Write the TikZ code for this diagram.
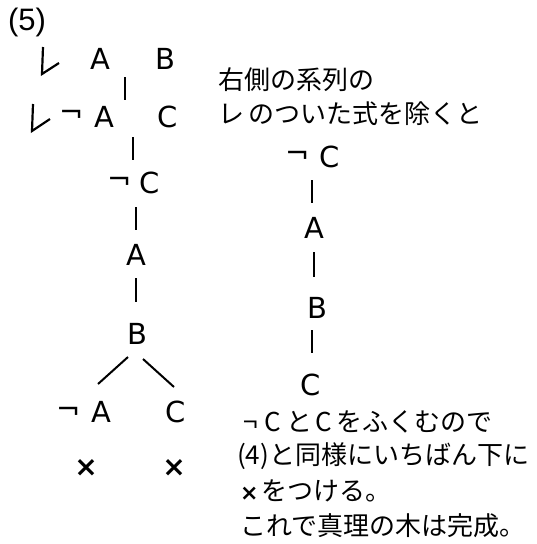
\documentclass[tikz,border=0pt]{standalone}
\usepackage{fontspec}
\newfontfamily\jp{Noto Sans CJK JP}
\newfontfamily\tr{DejaVu Sans}
\newfontfamily\ar{Liberation Sans}
\begin{document}
\begin{tikzpicture}[x=1pt,y=-1pt,
  lt/.style={font=\tr\fontsize{29}{32}\selectfont, inner sep=0pt},
  xt/.style={font=\tr\fontsize{28}{32}\selectfont\bfseries, inner sep=0pt},
  jt/.style={font=\jp\fontsize{26}{30}\selectfont, inner sep=0pt, anchor=west},
  ln/.style={line width=2pt},
  tick/.style={line width=2.2pt}]
\useasboundingbox (0,0) rectangle (537,544);
\node[font=\ar\fontsize{31}{34}\selectfont, inner sep=0pt] (num) at (27,22) {(5)};
% row 1
\draw[tick] (43,47) -- (42,74) -- (59,63);
\node[lt] (a1) at (100,59) {A};
\node[lt] (b1) at (165,59) {B};
\coordinate (l1a) at (125,77); \coordinate (l1b) at (125,100);
\draw[ln] (l1a) -- (l1b);
% row 2
\draw[tick] (33,104) -- (32,131) -- (50,119);
\node[lt] (n2) at (72,116) {¬};
\node[lt] (a2) at (104,117) {A};
\node[lt] (c2) at (168,117) {C};
\coordinate (l2a) at (133,137); \coordinate (l2b) at (133,160);
\draw[ln] (l2a) -- (l2b);
% row 3
\node[lt] (n3) at (120,183) {¬};
\node[lt] (c3) at (150,183) {C};
\coordinate (l3a) at (136,207); \coordinate (l3b) at (136,230);
\draw[ln] (l3a) -- (l3b);
\node[lt] (a4) at (136,255) {A};
\coordinate (l4a) at (136,278); \coordinate (l4b) at (136,302);
\draw[ln] (l4a) -- (l4b);
\node[lt] (b5) at (137,334) {B};
\coordinate (d1a) at (128,357); \coordinate (d1b) at (98,384);
\coordinate (d2a) at (143,359); \coordinate (d2b) at (174,387);
\draw[ln] (d1a) -- (d1b);
\draw[ln] (d2a) -- (d2b);
\node[lt] (n6) at (69,413) {¬};
\node[lt] (a6) at (101,412) {A};
\node[lt] (c6) at (176,412) {C};
\node[xt] (x1) at (86,468) {×};
\node[xt] (x2) at (174,468) {×};
% right column
\node[jt] (t1) at (218,80) {右側の系列の};
\node[jt] (t2) at (218,114) {レ\hspace{4pt}のついた式を除くと};
\node[lt] (rn) at (298,157) {¬};
\node[lt] (rc1) at (330,157) {C};
\coordinate (r1a) at (312,180); \coordinate (r1b) at (312,203);
\draw[ln] (r1a) -- (r1b);
\node[lt] (ra) at (314,228) {A};
\coordinate (r2a) at (314,252); \coordinate (r2b) at (314,277);
\draw[ln] (r2a) -- (r2b);
\node[lt] (rb) at (317,308) {B};
\coordinate (r3a) at (312,330); \coordinate (r3b) at (312,353);
\draw[ln] (r3a) -- (r3b);
\node[lt] (rc2) at (311,385) {C};
\node[jt] (t3) at (243,422) {¬\hspace{7pt}C\hspace{5pt}と\hspace{3pt}C\hspace{5pt}をふくむので};
\node[jt] (t4) at (237,456) {(4)と同様にいちばん下に};
\node[jt] (t5) at (240,491) {{\tr\bfseries\fontsize{22}{26}\selectfont ×}\hspace{3pt}をつける。};
\node[jt] (t6) at (240,526) {これで真理の木は完成。};
\end{tikzpicture}
\end{document}
